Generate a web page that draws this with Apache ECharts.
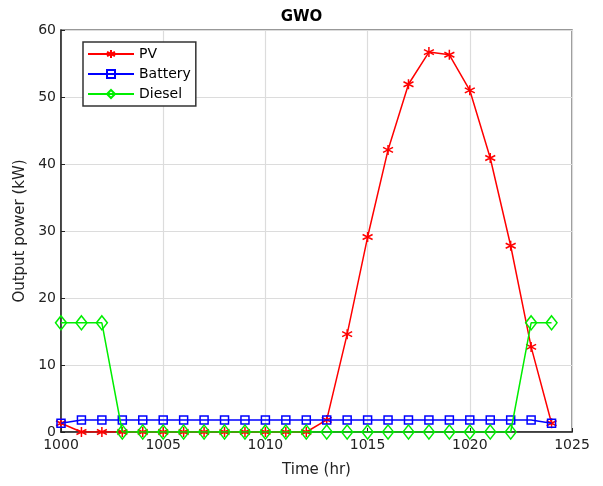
<!DOCTYPE html>
<html><head><meta charset="utf-8">
<script src="https://cdn.jsdelivr.net/npm/echarts@6/dist/echarts.min.js"></script>
<style>html,body{margin:0;padding:0;background:#fff}#c{width:603px;height:486px}</style>
</head><body><div id="c"></div>
<script>
var hours = [1000,1001,1002,1003,1004,1005,1006,1007,1008,1009,1010,1011,1012,1013,1014,1015,1016,1017,1018,1019,1020,1021,1022,1023,1024];
var pv = [1.3,0,0,0,0,0,0,0,0,0,0,0,0,1.8,14.6,29.1,42.1,51.9,56.7,56.3,51.0,40.9,27.8,12.7,1.3];
var battery = [1.3,1.8,1.8,1.8,1.8,1.8,1.8,1.8,1.8,1.8,1.8,1.8,1.8,1.8,1.8,1.8,1.8,1.8,1.8,1.8,1.8,1.8,1.8,1.8,1.3];
var diesel = [16.3,16.3,16.3,0,0,0,0,0,0,0,0,0,0,0,0,0,0,0,0,0,0,0,0,16.3,16.3];
var seriesNames = ['PV','Battery','Diesel'];
var xTicks = {min:1000,max:1025,interval:5};
var yTicks = {min:0,max:60,interval:10};

function pairs(v){return hours.map(function(h,i){return [h,v[i]];});}
var star = 'path://M0,-5L0,5M-4.3,-2.5L4.3,2.5M-4.3,2.5L4.3,-2.5M0,-5';
var font = 'DejaVu Sans';
var chart = echarts.init(document.getElementById('c'));
chart.setOption({
  animation:false,
  title:{text:'GWO',left:'center',top:5,textStyle:{fontFamily:font,fontWeight:'bold',fontSize:15,color:'#000'}},
  grid:{left:61,right:31,top:30,bottom:54,show:true,borderColor:'#777',borderWidth:1.5},
  legend:{orient:'vertical',left:83,top:42,data:seriesNames,itemWidth:46,itemHeight:10,itemGap:6,
    padding:[5,5,5,4],borderColor:'#333',borderWidth:1.5,backgroundColor:'#fff',
    textStyle:{fontFamily:font,fontSize:14,color:'#000'}},
  xAxis:{type:'value',min:xTicks.min,max:xTicks.max,interval:xTicks.interval,
    name:'Time (hr)',nameLocation:'middle',nameGap:31,
    nameTextStyle:{fontFamily:font,fontSize:15,color:'#222'},
    axisLine:{show:true,lineStyle:{color:'#222',width:1.5}},
    axisTick:{show:true,inside:true,length:4,lineStyle:{color:'#222'}},
    axisLabel:{fontFamily:font,fontSize:14,color:'#222',margin:6,formatter:function(v){return String(v);}},
    splitLine:{show:true,lineStyle:{color:'#dcdcdc',width:1.2}}},
  yAxis:{type:'value',min:yTicks.min,max:yTicks.max,interval:yTicks.interval,
    name:'Output power (kW)',nameLocation:'middle',nameGap:24,
    nameTextStyle:{fontFamily:font,fontSize:15,color:'#222'},
    axisLine:{show:true,lineStyle:{color:'#222',width:1.5}},
    axisTick:{show:true,inside:true,length:4,lineStyle:{color:'#222'}},
    axisLabel:{fontFamily:font,fontSize:14,color:'#222',margin:5},
    splitLine:{show:true,lineStyle:{color:'#dcdcdc',width:1.2}}},
  series:[
    {name:'PV',type:'line',data:pairs(pv),symbol:star,symbolSize:10,showAllSymbol:true,
      lineStyle:{color:'#ff0000',width:1.5},itemStyle:{color:'#ff0000',borderColor:'#ff0000',borderWidth:1.5},z:2},
    {name:'Battery',type:'line',data:pairs(battery),symbol:'rect',symbolSize:8,showAllSymbol:true,
      lineStyle:{color:'#0000ff',width:1.5},itemStyle:{color:'rgba(0,0,0,0)',borderColor:'#0000ff',borderWidth:1.5},z:3},
    {name:'Diesel',type:'line',data:pairs(diesel),symbol:'diamond',symbolSize:[11,14],showAllSymbol:true,
      lineStyle:{color:'#00ee00',width:1.5},itemStyle:{color:'rgba(0,0,0,0)',borderColor:'#00ee00',borderWidth:1.5},z:4}
  ]
});
</script></body></html>
